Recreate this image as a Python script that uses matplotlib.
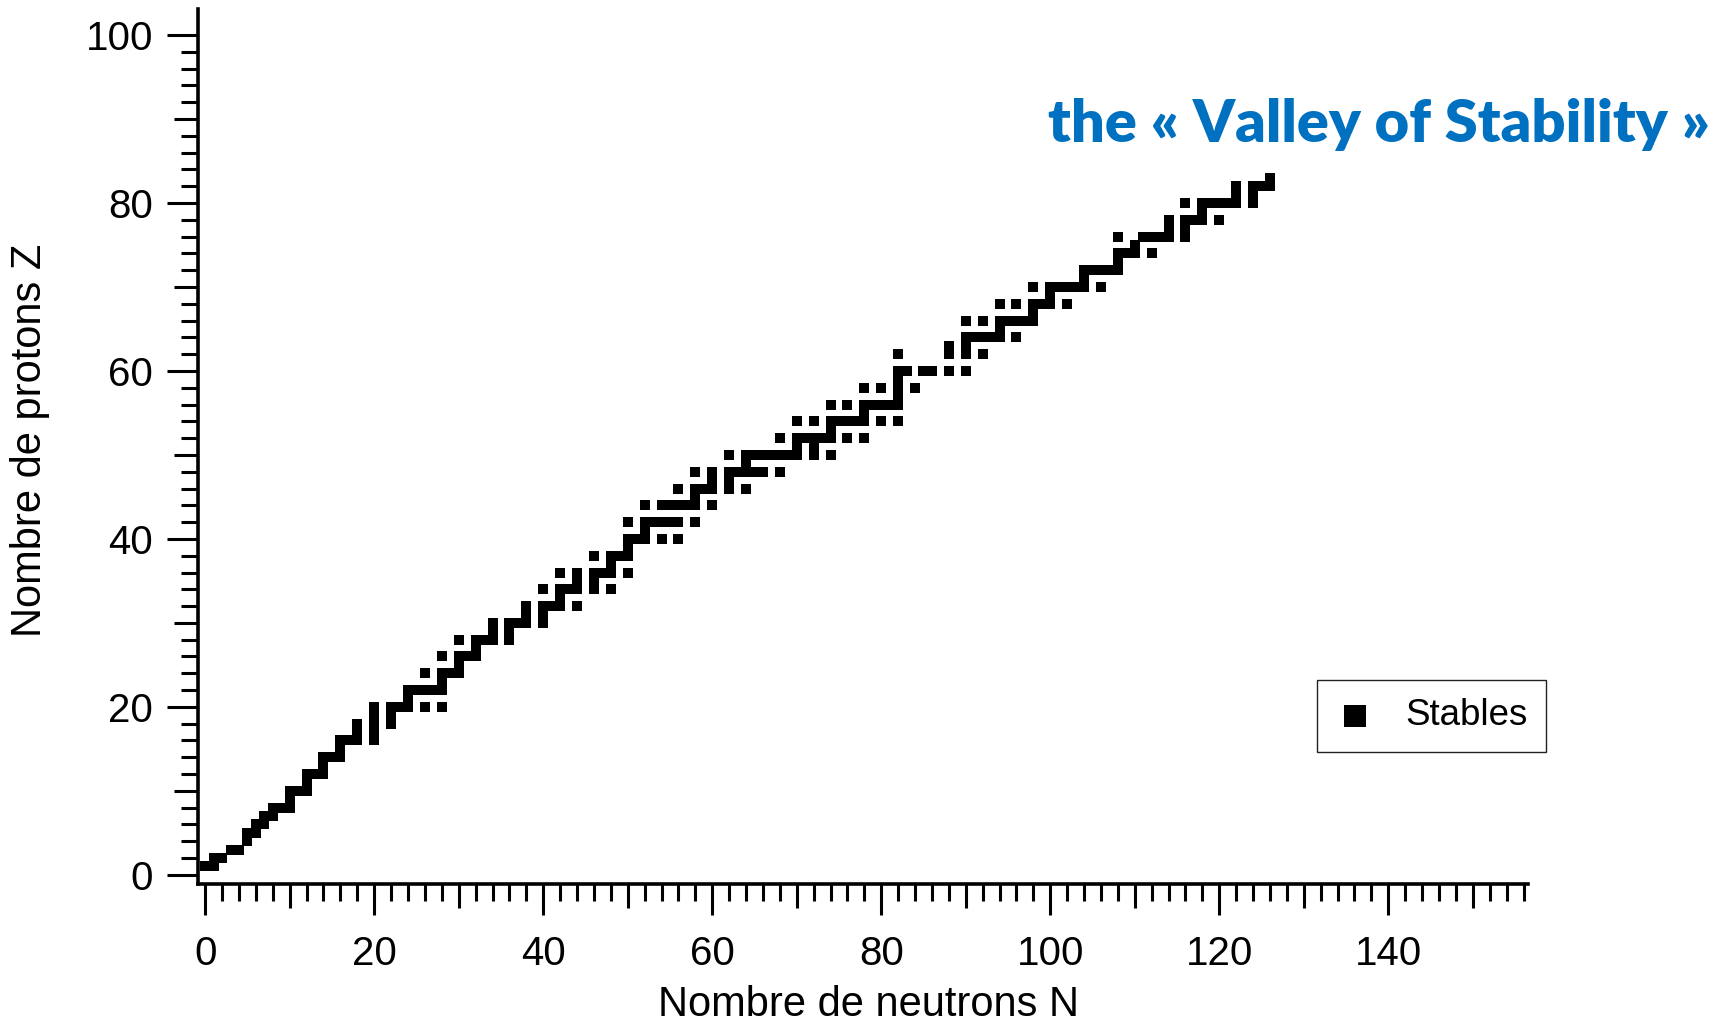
import matplotlib
matplotlib.use('Agg')
import numpy as np
import matplotlib.pyplot as plt
from matplotlib.ticker import FixedLocator, NullFormatter

plt.rcParams['font.family'] = ['Liberation Sans', 'DejaVu Sans']

# Mass numbers A of the stable nuclides, one row per element (Z = 1 .. 83)
stable_mass_numbers = [
    [1, 2],                                             # H
    [3, 4],                                             # He
    [6, 7],                                             # Li
    [9],                                                # Be
    [10, 11],                                           # B
    [12, 13],                                           # C
    [14, 15],                                           # N
    [16, 17, 18],                                       # O
    [19],                                               # F
    [20, 21, 22],                                       # Ne
    [23],                                               # Na
    [24, 25, 26],                                       # Mg
    [27],                                               # Al
    [28, 29, 30],                                       # Si
    [31],                                               # P
    [32, 33, 34, 36],                                   # S
    [35, 37],                                           # Cl
    [36, 38, 40],                                       # Ar
    [39, 41],                                           # K
    [40, 42, 43, 44, 46, 48],                           # Ca
    [45],                                               # Sc
    [46, 47, 48, 49, 50],                               # Ti
    [51],                                               # V
    [50, 52, 53, 54],                                   # Cr
    [55],                                               # Mn
    [54, 56, 57, 58],                                   # Fe
    [59],                                               # Co
    [58, 60, 61, 62, 64],                               # Ni
    [63, 65],                                           # Cu
    [64, 66, 67, 68, 70],                               # Zn
    [69, 71],                                           # Ga
    [70, 72, 73, 74, 76],                               # Ge
    [75],                                               # As
    [74, 76, 77, 78, 80, 82],                           # Se
    [79, 81],                                           # Br
    [78, 80, 82, 83, 84, 86],                           # Kr
    [85],                                               # Rb
    [84, 86, 87, 88],                                   # Sr
    [89],                                               # Y
    [90, 91, 92, 94, 96],                               # Zr
    [93],                                               # Nb
    [92, 94, 95, 96, 97, 98, 100],                      # Mo
    [],                                                 # Tc
    [96, 98, 99, 100, 101, 102, 104],                   # Ru
    [103],                                              # Rh
    [102, 104, 105, 106, 108, 110],                     # Pd
    [107, 109],                                         # Ag
    [106, 108, 110, 111, 112, 113, 114, 116],           # Cd
    [113],                                              # In
    [112, 114, 115, 116, 117, 118, 119, 120, 122, 124], # Sn
    [121, 123],                                         # Sb
    [120, 122, 123, 124, 125, 126, 128, 130],           # Te
    [127],                                              # I
    [124, 126, 128, 129, 130, 131, 132, 134, 136],      # Xe
    [133],                                              # Cs
    [130, 132, 134, 135, 136, 137, 138],                # Ba
    [139],                                              # La
    [136, 138, 140, 142],                               # Ce
    [141],                                              # Pr
    [142, 143, 145, 146, 148, 150],                     # Nd
    [],                                                 # Pm
    [144, 150, 152, 154],                               # Sm
    [151, 153],                                         # Eu
    [154, 155, 156, 157, 158, 160],                     # Gd
    [159],                                              # Tb
    [156, 158, 160, 161, 162, 163, 164],                # Dy
    [165],                                              # Ho
    [162, 164, 166, 167, 168, 170],                     # Er
    [169],                                              # Tm
    [168, 170, 171, 172, 173, 174, 176],                # Yb
    [175],                                              # Lu
    [176, 177, 178, 179, 180],                          # Hf
    [181],                                              # Ta
    [182, 183, 184, 186],                               # W
    [185],                                              # Re
    [184, 187, 188, 189, 190, 192],                     # Os
    [191, 193],                                         # Ir
    [192, 194, 195, 196, 198],                          # Pt
    [197],                                              # Au
    [196, 198, 199, 200, 201, 202, 204],                # Hg
    [203, 205],                                         # Tl
    [204, 206, 207, 208],                               # Pb
    [209],                                              # Bi
]

x_ticks = [0, 20, 40, 60, 80, 100, 120, 140]
y_ticks = [0, 20, 40, 60, 80, 100]

# proton / neutron numbers of every stable nuclide
protons = []
neutrons = []
for z, masses in enumerate(stable_mass_numbers, start=1):
    for a in masses:
        protons.append(z)
        neutrons.append(a - z)

fig = plt.figure(figsize=(17.21, 10.25), dpi=100)
ax = fig.add_axes([0.1148, 0.1380, 0.7729, 0.8532])

ax.scatter(neutrons, protons, marker='s', s=50, color='black',
           linewidths=0, label='Stables')

ax.set_xlim(-0.9, 156.5)
ax.set_ylim(-1.04, 103.1)

for side in ['top', 'right']:
    ax.spines[side].set_visible(False)
for side in ['left', 'bottom']:
    ax.spines[side].set_linewidth(2.6)

ax.xaxis.set_major_locator(FixedLocator(x_ticks))
ax.yaxis.set_major_locator(FixedLocator(y_ticks))
ax.xaxis.set_minor_locator(FixedLocator(np.arange(0, 157, 2)))
ax.yaxis.set_minor_locator(FixedLocator(np.arange(0, 101, 2)))
ax.xaxis.set_minor_formatter(NullFormatter())
ax.yaxis.set_minor_formatter(NullFormatter())

ax.tick_params(which='both', direction='out', width=2.2, color='black')
ax.tick_params(which='major', length=22, labelsize=29)
ax.tick_params(which='minor', length=12.5)
ax.tick_params(axis='x', which='major', pad=15)
ax.tick_params(axis='y', which='major', pad=10)

# ticks every 10 are a little longer than the other minor ticks
fig.canvas.draw()
for axis in [ax.xaxis, ax.yaxis]:
    for tick in axis.get_minor_ticks():
        if abs(tick.get_loc() % 10) < 1e-6:
            tick.tick1line.set_markersize(17)

fig.text(0.5048, 0.0200, 'Nombre de neutrons N', fontsize=30,
         ha='center', va='center')
fig.text(0.0175, 0.5707, 'Nombre de protons Z', fontsize=30,
         rotation=90, ha='center', va='center')

fig.text(0.9936, 0.8790, 'the \u00ab Valley of Stability \u00bb',
         fontsize=42.8, fontweight='heavy', color='#0070C0',
         family=['Lato', 'DejaVu Sans'], ha='right', va='center')

leg = ax.legend(loc='upper left', bbox_to_anchor=(0.7653, 0.3366),
                bbox_transform=fig.transFigure, borderaxespad=0,
                fontsize=26.5, markerscale=2.3, scatterpoints=1,
                handlelength=1.05, handletextpad=0.84, borderpad=0.5,
                fancybox=False, framealpha=1, edgecolor='#222222')
leg.get_frame().set_linewidth(1.0)

fig.savefig('out.png', dpi=100)
